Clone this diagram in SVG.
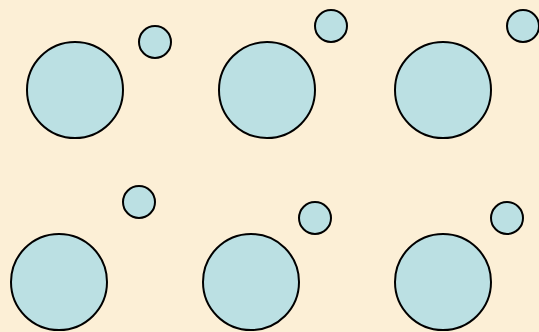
<svg xmlns="http://www.w3.org/2000/svg" width="539" height="332" viewBox="0 0 539 332">
<style>
.c{fill:#BBE0E3;stroke:#000;stroke-width:2}
</style>
<rect width="539" height="332" fill="#FCEFD6"/>
<g id="node-large-1"><circle class="c" cx="75" cy="90" r="48"/></g>
<g id="node-small-1"><circle class="c" cx="155" cy="42" r="16"/></g>
<g id="node-large-2"><circle class="c" cx="267" cy="90" r="48"/></g>
<g id="node-small-2"><circle class="c" cx="331" cy="26" r="16"/></g>
<g id="node-large-3"><circle class="c" cx="443" cy="90" r="48"/></g>
<g id="node-small-3"><circle class="c" cx="523" cy="26" r="16"/></g>
<g id="node-large-4"><circle class="c" cx="59" cy="282" r="48"/></g>
<g id="node-small-4"><circle class="c" cx="139" cy="202" r="16"/></g>
<g id="node-large-5"><circle class="c" cx="251" cy="282" r="48"/></g>
<g id="node-small-5"><circle class="c" cx="315" cy="218" r="16"/></g>
<g id="node-large-6"><circle class="c" cx="443" cy="282" r="48"/></g>
<g id="node-small-6"><circle class="c" cx="507" cy="218" r="16"/></g>
<g id="connectors"></g>
</svg>
